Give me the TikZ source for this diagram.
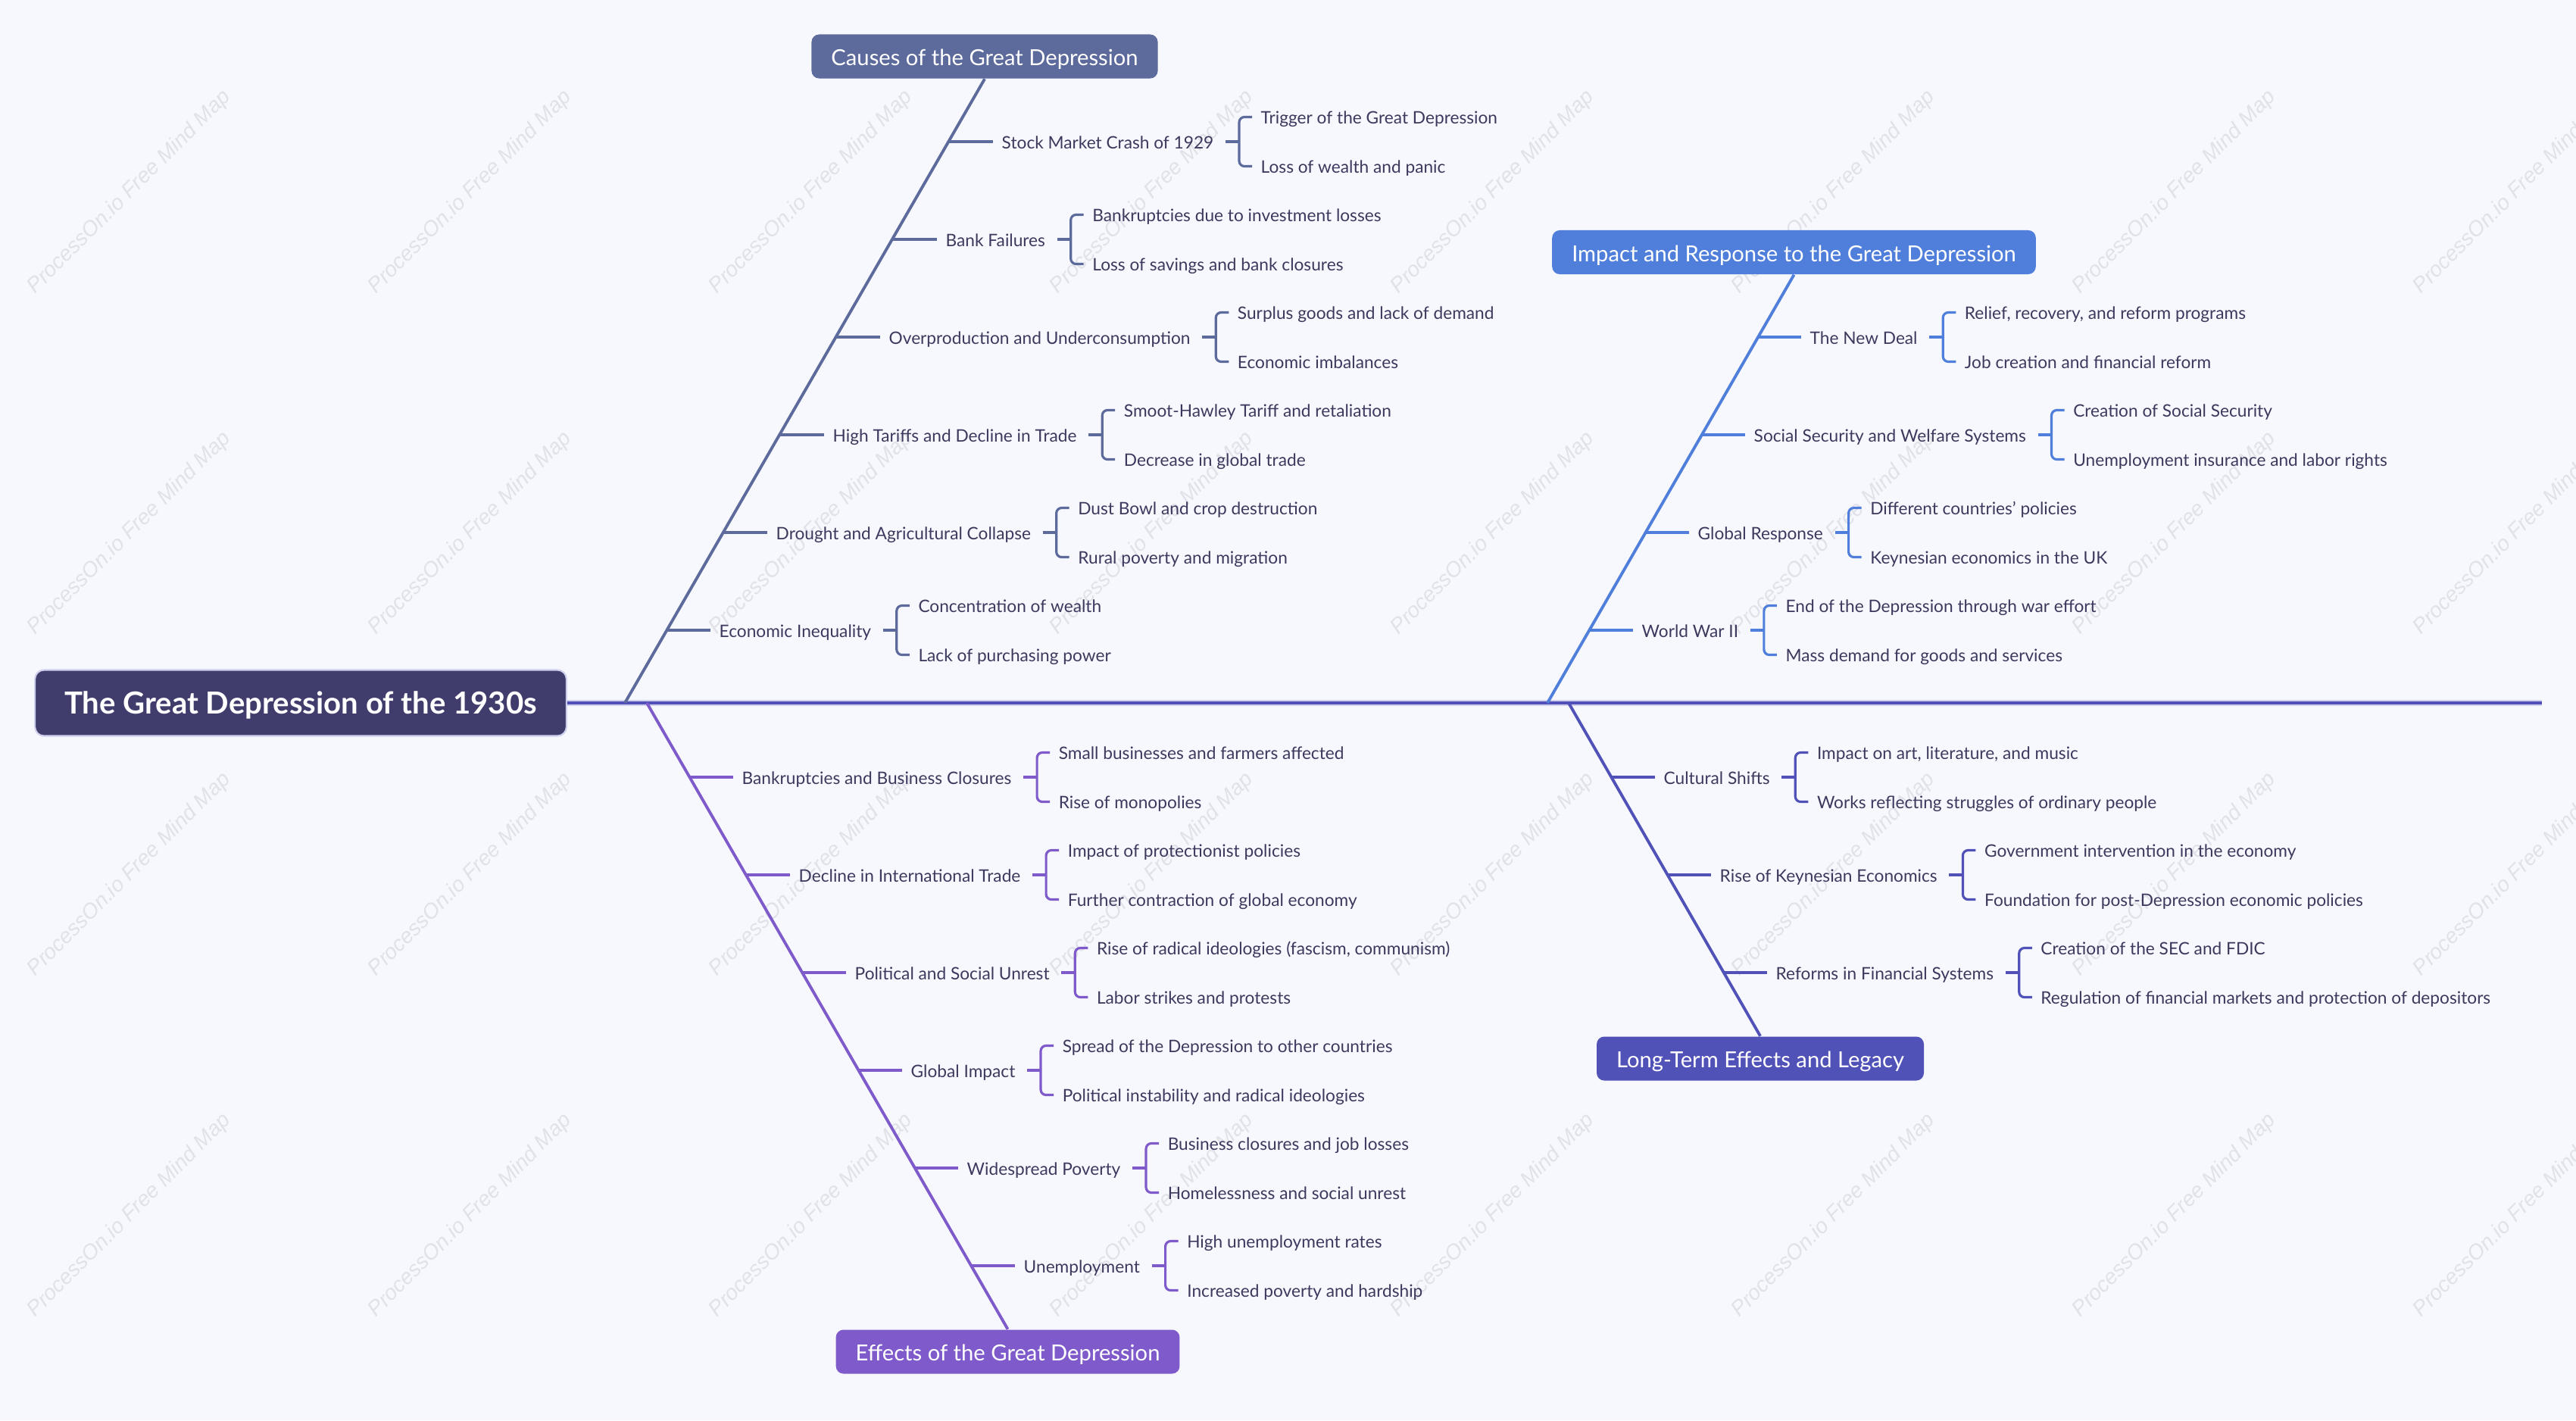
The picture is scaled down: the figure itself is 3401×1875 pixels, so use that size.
\documentclass[tikz,border=0pt]{standalone}
\usepackage{fontspec}
\setmainfont{Lato}
\newfontfamily\wmfont{Liberation Sans}
\usetikzlibrary{calc}
\definecolor{bg}{HTML}{F7F8FD}
\definecolor{rootC}{HTML}{403D6C}
\definecolor{cC}{HTML}{5D6A9C}
\definecolor{iC}{HTML}{4F7FDB}
\definecolor{eC}{HTML}{7F5ACA}
\definecolor{lC}{HTML}{5152B7}
\definecolor{spineC}{HTML}{5050B8}
\definecolor{haloC}{HTML}{CFCFEE}
\definecolor{txt}{HTML}{3B3A5E}
\definecolor{wmC}{HTML}{E1E2E9}
\tikzset{
  lab/.style={inner sep=0pt, text=txt, font=\fontsize{6.45}{8}\selectfont, text height=0.72em, text depth=0.2em},
  leaf/.style={lab},
  mainbox/.style={rounded corners=0.1cm, inner xsep=0.26cm, inner ysep=0pt, minimum height=0.58cm, text=white, font=\fontsize{8.3}{10}\selectfont, text height=0.8em, text depth=0.1em},
  rootbox/.style={rounded corners=0.12cm, fill=rootC, draw=haloC, line width=0.6pt, inner xsep=0.39cm, inner ysep=0pt, minimum height=0.87cm, text=white, font=\fontsize{11.4}{13}\selectfont\bfseries, text height=0.84em, text depth=0.04em},
  diag/.style={line width=1.1pt},
  tickln/.style={line width=1.1pt},
  brk/.style={line width=0.9pt, rounded corners=0.07cm},
  wm/.style={inner sep=0pt, text=wmC, font=\wmfont\itshape\fontsize{8}{9}\selectfont, rotate=45},
}
\newcommand\subbr[7]{%
  \coordinate (#1d) at (#2,#3);
  \node[lab, anchor=west] (#1) at (#2+69,#3) {#5};
  \draw[tickln, #4] (#1d) -- ([xshift=-0.11cm]#1.west);
  \coordinate (#1b) at ([xshift=0.33cm]#1.east);
  \draw[tickln, #4] ([xshift=0.15cm]#1.east) -- (#1b);
  \node[leaf, anchor=west] (#1a) at ([xshift=0.28cm,yshift=0.325cm]#1b) {#6};
  \node[leaf, anchor=west] (#1c) at ([xshift=0.28cm,yshift=-0.325cm]#1b) {#7};
  \draw[brk, #4] ([shift={(0.17cm,0.325cm)}]#1b) -| ([yshift=-0.325cm]#1b) -- ++(0.17cm,0);
}
\begin{document}
\begin{tikzpicture}[x=0.01cm,y=-0.01cm]
\fill[bg] (0,0) rectangle (3401,1875);
\useasboundingbox (0,0) rectangle (3401,1875);
\clip (0,0) rectangle (3401,1875);
% watermarks
\foreach \i in {0,...,7}{
  \foreach \j in {0,...,3}{
    \node[wm] (wm\i\j) at (171+450*\i,254+450.3*\j) {ProcessOn.io Free Mind Map};
  }
}
% root
\node[rootbox] (root) at (397,928) {The Great Depression of the 1930s};
% main boxes
\node[mainbox, fill=cC] (causes) at (1300,74.5) {Causes of the Great Depression};
\node[mainbox, fill=iC] (impact) at (2368.5,333) {Impact and Response to the Great Depression};
\node[mainbox, fill=eC] (effects) at (1330.5,1784.5) {Effects of the Great Depression};
\node[mainbox, fill=lC] (legacy) at (2324,1397.5) {Long-Term Effects and Legacy};
% spine
\coordinate (spineend) at (3356,928);
\draw[haloC, line width=2.4pt] (root.east) -- (spineend);
\draw[spineC, line width=1.4pt] (root.east) -- (spineend);
% junctions
\coordinate (Jc) at (825,928);
\coordinate (Je) at (854,928);
\coordinate (Ji) at (2043,928);
\coordinate (Jl) at (2071,928);
\draw[diag, cC] (Jc) -- (causes.south);
\draw[diag, eC] (Je) -- (effects.north);
\draw[diag, iC] (Ji) -- (impact.south);
\draw[diag, lC] (Jl) -- (legacy.north);
% causes
\subbr{c1}{1253}{187}{cC}{Stock Market Crash of 1929}{Trigger of the Great Depression}{Loss of wealth and panic}
\subbr{c2}{1179}{316}{cC}{Bank Failures}{Bankruptcies due to investment losses}{Loss of savings and bank closures}
\subbr{c3}{1104}{445}{cC}{Overproduction and Underconsumption}{Surplus goods and lack of demand}{Economic imbalances}
\subbr{c4}{1030}{574}{cC}{High Tariffs and Decline in Trade}{Smoot-Hawley Tariff and retaliation}{Decrease in global trade}
\subbr{c5}{955}{703}{cC}{Drought and Agricultural Collapse}{Dust Bowl and crop destruction}{Rural poverty and migration}
\subbr{c6}{880}{832}{cC}{Economic Inequality}{Concentration of wealth}{Lack of purchasing power}
% effects
\subbr{e1}{910}{1026}{eC}{Bankruptcies and Business Closures}{Small businesses and farmers affected}{Rise of monopolies}
\subbr{e2}{985}{1155}{eC}{Decline in International Trade}{Impact of protectionist policies}{Further contraction of global economy}
\subbr{e3}{1059}{1284}{eC}{Political and Social Unrest}{Rise of radical ideologies (fascism, communism)}{Labor strikes and protests}
\subbr{e4}{1133}{1413}{eC}{Global Impact}{Spread of the Depression to other countries}{Political instability and radical ideologies}
\subbr{e5}{1207}{1542}{eC}{Widespread Poverty}{Business closures and job losses}{Homelessness and social unrest}
\subbr{e6}{1282}{1671}{eC}{Unemployment}{High unemployment rates}{Increased poverty and hardship}
% impact
\subbr{i1}{2320}{445}{iC}{The New Deal}{Relief, recovery, and reform programs}{Job creation and financial reform}
\subbr{i2}{2246}{574}{iC}{Social Security and Welfare Systems}{Creation of Social Security}{Unemployment insurance and labor rights}
\subbr{i3}{2172}{703}{iC}{Global Response}{Different countries' policies}{Keynesian economics in the UK}
\subbr{i4}{2098}{832}{iC}{World War II}{End of the Depression through war effort}{Mass demand for goods and services}
% legacy
\subbr{l1}{2127}{1026}{lC}{Cultural Shifts}{Impact on art, literature, and music}{Works reflecting struggles of ordinary people}
\subbr{l2}{2201}{1155}{lC}{Rise of Keynesian Economics}{Government intervention in the economy}{Foundation for post-Depression economic policies}
\subbr{l3}{2275}{1284}{lC}{Reforms in Financial Systems}{Creation of the SEC and FDIC}{Regulation of financial markets and protection of depositors}
\end{tikzpicture}
\end{document}
